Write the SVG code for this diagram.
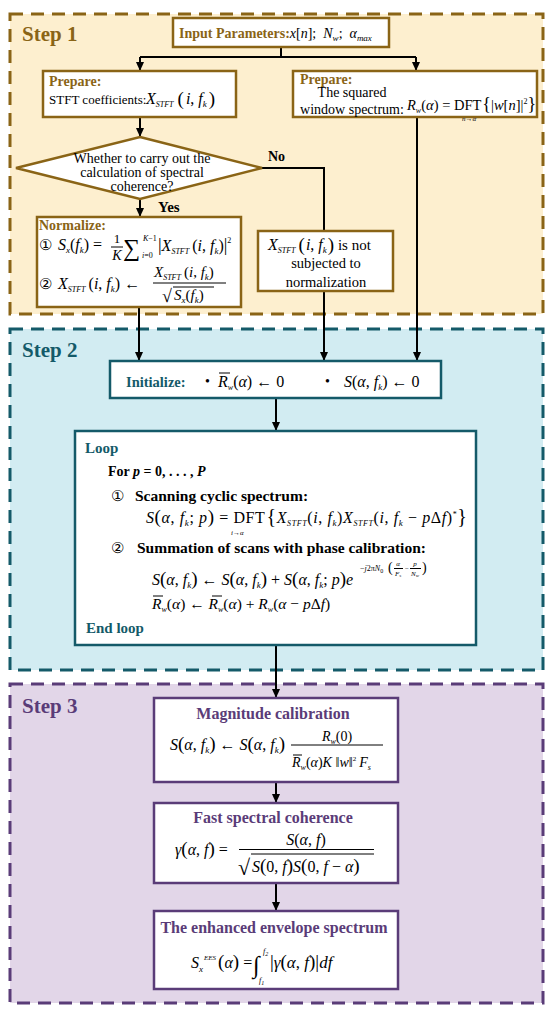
<svg xmlns="http://www.w3.org/2000/svg" width="550" height="1013" viewBox="0 0 550 1013">
<style>
text{font-family:"Liberation Serif","Times New Roman","DejaVu Serif",serif;fill:#000}
.i{font-style:italic}
.b{font-weight:bold}
.br{fill:#8a6416}
.tl{fill:#145a69}
.pu{fill:#5a3c78}
.m{text-anchor:middle}
.p{font-size:19px}
.reg1{fill:#fdefcf;stroke:#8a6416;stroke-width:3;stroke-dasharray:13 8}
.reg2{fill:#d2ecf2;stroke:#145a69;stroke-width:3;stroke-dasharray:13 8}
.reg3{fill:#e2d6e8;stroke:#5a3c78;stroke-width:3;stroke-dasharray:13 8}
.n1{fill:#fff;stroke:#8a6416;stroke-width:2.5}
.n2{fill:#fff;stroke:#145a69;stroke-width:2.5}
.n3{fill:#fff;stroke:#5a3c78;stroke-width:2.5}
.c{fill:none;stroke:#000;stroke-width:2}
.ln{stroke:#000;stroke-width:1}
.step{font-size:21px;font-weight:bold}
</style>
<defs>
<marker id="ah" markerUnits="userSpaceOnUse" markerWidth="9" markerHeight="8" refX="9" refY="4" orient="auto">
<path d="M0,0 L9,4 L0,8 z" fill="#000"/>
</marker>
</defs>

<g id="regions">
<rect class="reg1" x="10" y="14" width="533" height="300"/>
<rect class="reg2" x="10" y="329" width="533" height="341"/>
<rect class="reg3" x="10" y="684" width="533" height="319"/>
<text class="step br" x="22" y="41">Step 1</text>
<text class="step tl" x="22" y="357">Step 2</text>
<text class="step pu" x="22" y="713">Step 3</text>
</g>

<g id="connectors">
<path class="c" d="M281,47 V57"/>
<path class="c" d="M140,57 H416"/>
<path class="c" d="M140,57 V71" marker-end="url(#ah)"/>
<path class="c" d="M416,57 V71" marker-end="url(#ah)"/>
<path class="c" d="M140,117 V137" marker-end="url(#ah)"/>
<path class="c" d="M140,199 V217" marker-end="url(#ah)"/>
<path class="c" d="M262,168 H324 V231"/>
<path class="c" d="M324,291 V361" marker-end="url(#ah)"/>
<path class="c" d="M139,307 V361" marker-end="url(#ah)"/>
<path class="c" d="M417,117 V361" marker-end="url(#ah)"/>
<path class="c" d="M276,398 V431" marker-end="url(#ah)"/>
<path class="c" d="M276,645 V698" marker-end="url(#ah)"/>
<path class="c" d="M276,782 V803" marker-end="url(#ah)"/>
<path class="c" d="M276,883 V911" marker-end="url(#ah)"/>
<text class="b" x="268" y="161" font-size="14">No</text>
<text class="b" x="158" y="212" font-size="15">Yes</text>
</g>

<g id="input">
<rect class="n1" x="173" y="18" width="216" height="29"/>
<text x="179" y="38" font-size="14"><tspan class="b br">Input Parameters:</tspan><tspan class="i">x</tspan>[<tspan class="i">n</tspan>];<tspan class="i" dx="7">N</tspan><tspan class="i" font-size="9" dy="3">w</tspan><tspan dy="-3">;</tspan><tspan class="i" dx="7">α</tspan><tspan class="i" font-size="9" dy="3">max</tspan></text>
</g>

<g id="prepare-stft">
<rect class="n1" x="43" y="71" width="193" height="46"/>
<text class="b br" x="49" y="86" font-size="14">Prepare:</text>
<text x="49" y="104" font-size="13">STFT coefficients:</text>
<text x="146" y="104" font-size="16"><tspan class="i">X</tspan><tspan class="i" font-size="8" dy="3">STFT</tspan><tspan class="p" dy="-2" dx="4">(</tspan><tspan class="i" dy="-1" dx="2">i</tspan>, <tspan class="i">f</tspan><tspan class="i" font-size="9" dy="3">k</tspan><tspan class="p" dy="-2" dx="2">)</tspan></text>
</g>

<g id="prepare-window">
<rect class="n1" x="293" y="71" width="244" height="46"/>
<text class="b br" x="300" y="84" font-size="14">Prepare:</text>
<text class="m" x="352" y="97" font-size="14">The squared</text>
<text class="m" x="352" y="114" font-size="14">window spectrum:</text>
<text x="407" y="110" font-size="14.5"><tspan class="i">R</tspan><tspan class="i" font-size="8" dy="3">w</tspan><tspan dy="-3">(</tspan><tspan class="i">α</tspan>) = DFT<tspan font-size="18" dx="1">{</tspan>|<tspan class="i">w</tspan>[<tspan class="i">n</tspan>]|<tspan font-size="8" dy="-6">2</tspan><tspan font-size="18" dy="6">}</tspan></text>
<text x="462" y="121" font-size="7" class="i">n→α</text>
</g>

<g id="decision">
<polygon class="n1" points="140,137 262,168 140,199 16,168"/>
<text class="m" x="142" y="163" font-size="14">Whether to carry out the</text>
<text class="m" x="142" y="177" font-size="14">calculation of spectral</text>
<text class="m" x="142" y="191" font-size="14">coherence?</text>
</g>

<g id="normalize">
<rect class="n1" x="37" y="217" width="204" height="90"/>
<text class="b br" x="39" y="230" font-size="14">Normalize:</text>
<text x="39" y="250" font-size="15">①</text>
<text x="58" y="250" font-size="16"><tspan class="i">S</tspan><tspan class="i" font-size="9" dy="3">x</tspan><tspan dy="-3">(</tspan><tspan class="i">f</tspan><tspan class="i" font-size="9" dy="3">k</tspan><tspan dy="-3">) =</tspan></text>
<text class="m" x="117" y="243" font-size="13">1</text>
<line class="ln" x1="111" y1="247" x2="123" y2="247"/>
<text class="m i" x="117" y="260" font-size="14">K</text>
<text x="123" y="256" font-size="24">∑</text>
<text class="i" x="143" y="241" font-size="8">K<tspan font-style="normal">−1</tspan></text>
<text class="i" x="142" y="258" font-size="8">i<tspan font-style="normal">=0</tspan></text>
<text x="158" y="251" font-size="16"><tspan font-size="18">|</tspan><tspan class="i">X</tspan><tspan class="i" font-size="8" dy="3">STFT</tspan><tspan dy="-3" dx="3">(</tspan><tspan class="i">i</tspan>, <tspan class="i">f</tspan><tspan class="i" font-size="9" dy="3">k</tspan><tspan dy="-3">)</tspan><tspan font-size="18">|</tspan><tspan font-size="8" dy="-8">2</tspan></text>
<text x="39" y="289" font-size="15">②</text>
<text x="58" y="289" font-size="16"><tspan class="i">X</tspan><tspan class="i" font-size="8" dy="3">STFT</tspan><tspan dy="-3" dx="3">(</tspan><tspan class="i">i</tspan>, <tspan class="i">f</tspan><tspan class="i" font-size="9" dy="3">k</tspan><tspan dy="-3">) ←</tspan></text>
<text x="154" y="277" font-size="15"><tspan class="i">X</tspan><tspan class="i" font-size="8" dy="3">STFT</tspan><tspan dy="-3" dx="3">(</tspan><tspan class="i">i</tspan>, <tspan class="i">f</tspan><tspan class="i" font-size="9" dy="3">k</tspan><tspan dy="-3">)</tspan></text>
<line class="ln" x1="153" y1="283" x2="226" y2="283"/>
<text x="162" y="302" font-size="18">√</text>
<line class="ln" x1="173" y1="287" x2="214" y2="287"/>
<text x="174" y="300" font-size="15"><tspan class="i">S</tspan><tspan class="i" font-size="9" dy="3">x</tspan><tspan dy="-3">(</tspan><tspan class="i">f</tspan><tspan class="i" font-size="9" dy="3">k</tspan><tspan dy="-3">)</tspan></text>
</g>

<g id="no-normalize">
<rect class="n1" x="258" y="231" width="135" height="60"/>
<text x="268" y="250" font-size="16"><tspan class="i">X</tspan><tspan class="i" font-size="8" dy="3">STFT</tspan><tspan class="p" dy="-2" dx="3">(</tspan><tspan class="i" dy="-1" dx="1">i</tspan>, <tspan class="i">f</tspan><tspan class="i" font-size="9" dy="3">k</tspan><tspan class="p" dy="-2" dx="1">)</tspan><tspan dy="-1" font-size="15"> is not</tspan></text>
<text class="m" x="326" y="268" font-size="14.5">subjected to</text>
<text class="m" x="326" y="287" font-size="14.5">normalization</text>
</g>

<g id="initialize">
<rect class="n2" x="110" y="361" width="331" height="37"/>
<text class="b tl" x="126" y="387" font-size="14.5">Initialize:</text>
<text x="205" y="386" font-size="14">•</text>
<text x="218" y="387" font-size="16"><tspan class="i">R</tspan><tspan class="i" font-size="8" dy="3">w</tspan><tspan dy="-3">(</tspan><tspan class="i">α</tspan>) ← 0</text>
<line class="ln" x1="219" y1="373" x2="230" y2="373" stroke-width="1.3"/>
<text x="325" y="386" font-size="14">•</text>
<text x="344" y="387" font-size="16"><tspan class="i">S</tspan>(<tspan class="i">α</tspan>, <tspan class="i">f</tspan><tspan class="i" font-size="9" dy="3">k</tspan><tspan dy="-3">) ← 0</tspan></text>
</g>

<g id="loop">
<rect class="n2" x="75" y="431" width="401" height="214"/>
<text class="b tl" x="85" y="453" font-size="15">Loop</text>
<text class="b" x="108" y="476" font-size="14">For <tspan class="i">p</tspan> = 0, . . . , <tspan class="i">P</tspan></text>
<text x="111" y="501" font-size="15">①</text>
<text class="b" x="135" y="501" font-size="15.5">Scanning cyclic spectrum:</text>
<text x="146" y="523" font-size="16" letter-spacing="0.6"><tspan class="i">S</tspan><tspan class="p">(</tspan><tspan class="i">α</tspan>, <tspan class="i">f</tspan><tspan class="i" font-size="9" dy="3">k</tspan><tspan dy="-3">; </tspan><tspan class="i">p</tspan><tspan class="p">)</tspan> = DFT<tspan font-size="20" dx="1">{</tspan><tspan class="i">X</tspan><tspan class="i" font-size="8" dy="3">STFT</tspan><tspan dy="-3">(</tspan><tspan class="i">i</tspan>, <tspan class="i">f</tspan><tspan class="i" font-size="9" dy="3">k</tspan><tspan dy="-3">)</tspan><tspan class="i">X</tspan><tspan class="i" font-size="8" dy="3">STFT</tspan><tspan dy="-3">(</tspan><tspan class="i">i</tspan>, <tspan class="i">f</tspan><tspan class="i" font-size="9" dy="3">k</tspan><tspan dy="-3"> − </tspan><tspan class="i">p</tspan>Δ<tspan class="i">f</tspan>)<tspan font-size="8" dy="-6">*</tspan><tspan font-size="20" dy="6">}</tspan></text>
<text x="231" y="535" font-size="7" class="i">i→α</text>
<text x="111" y="553" font-size="15">②</text>
<text class="b" x="137" y="553" font-size="15.5">Summation of scans with phase calibration:</text>
<text x="152" y="585" font-size="16"><tspan class="i">S</tspan><tspan class="p">(</tspan><tspan class="i">α</tspan>, <tspan class="i">f</tspan><tspan class="i" font-size="9" dy="3">k</tspan><tspan class="p" dy="-3">)</tspan> ← <tspan class="i">S</tspan><tspan class="p">(</tspan><tspan class="i">α</tspan>, <tspan class="i">f</tspan><tspan class="i" font-size="9" dy="3">k</tspan><tspan class="p" dy="-3">)</tspan> + <tspan class="i">S</tspan><tspan class="p">(</tspan><tspan class="i">α</tspan>, <tspan class="i">f</tspan><tspan class="i" font-size="9" dy="3">k</tspan><tspan dy="-3">; </tspan><tspan class="i">p</tspan><tspan class="p">)</tspan><tspan class="i">e</tspan></text>
<text x="360" y="571" font-size="8"><tspan>−</tspan><tspan class="i">j</tspan>2π<tspan class="i">N</tspan><tspan font-size="6" dy="2">0</tspan></text>
<text x="388" y="572" font-size="14">(</text>
<text class="m i" x="398" y="566" font-size="7">α</text>
<line class="ln" x1="394" y1="568.5" x2="403" y2="568.5" stroke-width="0.6"/>
<text class="m i" x="398" y="576" font-size="7">F<tspan font-size="5" dy="1">s</tspan></text>
<text x="405" y="571" font-size="7">−</text>
<text class="m i" x="415" y="566" font-size="7">p</text>
<line class="ln" x1="410" y1="568.5" x2="421" y2="568.5" stroke-width="0.6"/>
<text class="m i" x="415" y="576" font-size="7">N<tspan font-size="5" dy="1">w</tspan></text>
<text x="422" y="572" font-size="14">)</text>
<text x="152" y="609" font-size="15.5"><tspan class="i">R</tspan><tspan class="i" font-size="8" dy="3">w</tspan><tspan dy="-3">(</tspan><tspan class="i">α</tspan>) ← <tspan class="i">R</tspan><tspan class="i" font-size="8" dy="3">w</tspan><tspan dy="-3">(</tspan><tspan class="i">α</tspan>) + <tspan class="i">R</tspan><tspan class="i" font-size="8" dy="3">w</tspan><tspan dy="-3">(</tspan><tspan class="i">α</tspan> − <tspan class="i">p</tspan>Δ<tspan class="i">f</tspan>)</text>
<line class="ln" x1="153" y1="596" x2="163" y2="596" stroke-width="1.3"/>
<line class="ln" x1="212" y1="596" x2="222" y2="596" stroke-width="1.3"/>
<text class="b tl" x="86" y="633" font-size="15">End loop</text>
</g>

<g id="magnitude">
<rect class="n3" x="154" y="698" width="244" height="84"/>
<text class="b pu m" x="273" y="719" font-size="16">Magnitude calibration</text>
<text x="170" y="750" font-size="16"><tspan class="i">S</tspan><tspan class="p">(</tspan><tspan class="i">α</tspan>, <tspan class="i">f</tspan><tspan class="i" font-size="9" dy="3">k</tspan><tspan class="p" dy="-3">)</tspan> ← <tspan class="i">S</tspan><tspan class="p">(</tspan><tspan class="i">α</tspan>, <tspan class="i">f</tspan><tspan class="i" font-size="9" dy="3">k</tspan><tspan class="p" dy="-3">)</tspan></text>
<text class="m" x="337" y="741" font-size="14"><tspan class="i">R</tspan><tspan class="i" font-size="8" dy="3">w</tspan><tspan dy="-3">(0)</tspan></text>
<line class="ln" x1="291" y1="745" x2="383" y2="745"/>
<text x="292" y="767" font-size="14"><tspan class="i">R</tspan><tspan class="i" font-size="8" dy="3">w</tspan><tspan dy="-3">(</tspan><tspan class="i">α</tspan>)<tspan class="i">K</tspan> ‖<tspan class="i">w</tspan>‖<tspan font-size="7" dy="-6">2</tspan><tspan class="i" dy="6" dx="3">F</tspan><tspan class="i" font-size="8" dy="3">s</tspan></text>
<line class="ln" x1="293" y1="755" x2="302" y2="755" stroke-width="1.3"/>
</g>

<g id="coherence">
<rect class="n3" x="154" y="803" width="244" height="80"/>
<text class="b pu m" x="273" y="823" font-size="16">Fast spectral coherence</text>
<text x="175" y="855" font-size="16"><tspan class="i">γ</tspan><tspan class="p">(</tspan><tspan class="i">α</tspan>, <tspan class="i">f</tspan><tspan class="p">)</tspan> =</text>
<text class="m" x="306" y="845" font-size="16"><tspan class="i">S</tspan>(<tspan class="i">α</tspan>, <tspan class="i">f</tspan>)</text>
<line class="ln" x1="239" y1="849.5" x2="374" y2="849.5"/>
<text x="238" y="875" font-size="22">√</text>
<line class="ln" x1="251" y1="854" x2="374" y2="854"/>
<text x="252" y="872" font-size="16"><tspan class="i">S</tspan><tspan class="p">(</tspan>0, <tspan class="i">f</tspan><tspan class="p">)</tspan><tspan class="i">S</tspan><tspan class="p">(</tspan>0, <tspan class="i">f</tspan> − <tspan class="i">α</tspan><tspan class="p">)</tspan></text>
</g>

<g id="ees">
<rect class="n3" x="154" y="911" width="244" height="78"/>
<text class="b pu m" x="274" y="933" font-size="16">The enhanced envelope spectrum</text>
<text x="191" y="968" font-size="16"><tspan class="i">S</tspan><tspan class="i" font-size="9" dy="4">x</tspan><tspan class="i" font-size="7" dy="-12" dx="1">EES</tspan><tspan class="p" dy="8" dx="2">(</tspan><tspan class="i">α</tspan><tspan class="p">)</tspan> =</text>
<text x="253" y="973" font-size="24" class="i">∫</text>
<text class="i" x="263" y="954" font-size="8">f<tspan font-size="6" dy="2">2</tspan></text>
<text class="i" x="259" y="983" font-size="8">f<tspan font-size="6" dy="2">1</tspan></text>
<text x="270" y="968" font-size="17"><tspan font-size="19">|</tspan><tspan class="i">γ</tspan><tspan class="p">(</tspan><tspan class="i">α</tspan>, <tspan class="i">f</tspan><tspan class="p">)</tspan><tspan font-size="19">|</tspan><tspan class="i">df</tspan></text>
</g>
</svg>
